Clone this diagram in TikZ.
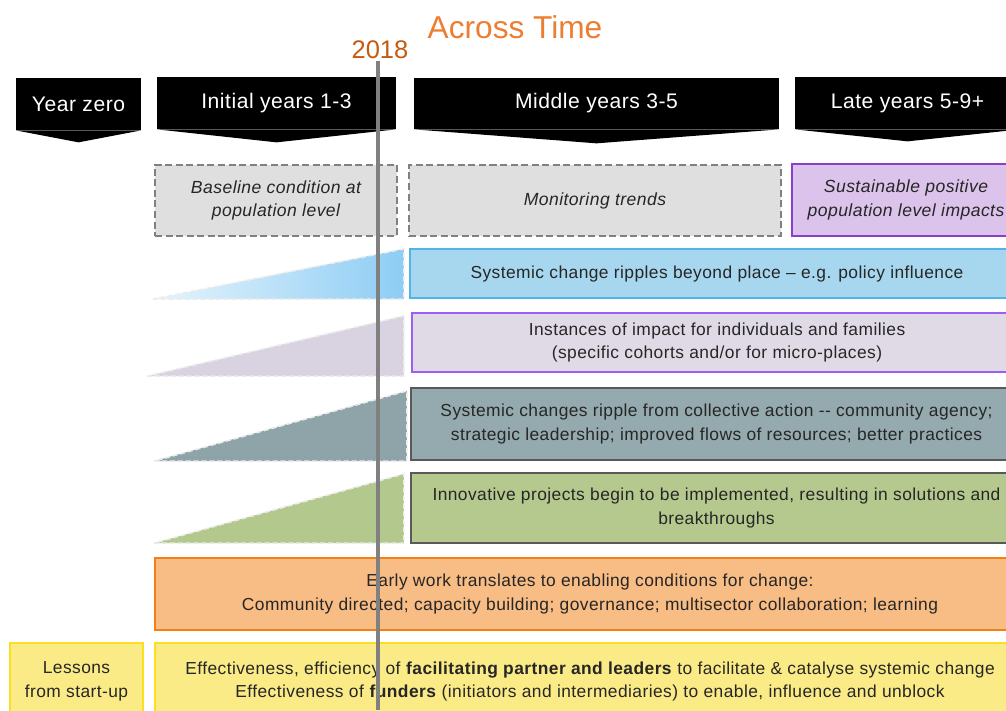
\documentclass[tikz,border=0pt]{standalone}
\usepackage{fontspec}
\setmainfont{Liberation Sans}
\newfontfamily\bandfont{Liberation Sans}[LetterSpace=2.5]
\usetikzlibrary{calc}

\definecolor{titleorange}{HTML}{ED7D31}
\definecolor{yearorange}{HTML}{C55A11}
\definecolor{dashgray}{HTML}{808080}
\definecolor{boxgray}{HTML}{DFDFDF}
\definecolor{susfill}{HTML}{DBC3EB}
\definecolor{susline}{HTML}{8A3FC9}
\definecolor{ripfill}{HTML}{A7D7EE}
\definecolor{ripline}{HTML}{50B4E6}
\definecolor{instfill}{HTML}{E0DAE6}
\definecolor{instline}{HTML}{9D5CF6}
\definecolor{collfill}{HTML}{95AAAE}
\definecolor{innovfill}{HTML}{B5C98F}
\definecolor{darkline}{HTML}{595959}
\definecolor{earlyfill}{HTML}{F8BC85}
\definecolor{earlyline}{HTML}{F57F17}
\definecolor{lessfill}{HTML}{FBEB87}
\definecolor{lessline}{HTML}{FCE01E}
\definecolor{wedgeblueL}{HTML}{E6F4FD}
\definecolor{wedgeblueR}{HTML}{8ECDF4}
\definecolor{wedgelav}{HTML}{D9D2E0}
\definecolor{wedgegray}{HTML}{8FA4A8}
\definecolor{wedgegreen}{HTML}{B3C88C}
\definecolor{textdark}{HTML}{262626}

\begin{document}
\begin{tikzpicture}[x=0.02cm, y=-0.02cm,
    header/.style={rectangle, fill=black, text=white, inner sep=0pt, font=\bandfont\fontsize{12}{14}\selectfont},
    dashbox/.style={rectangle, draw=dashgray, fill=boxgray, dash pattern=on 4pt off 2pt, line width=1.1pt, inner sep=0pt, align=center, text=textdark, font=\bandfont\fontsize{10}{13.5}\selectfont\itshape},
    band/.style={rectangle, line width=1.3pt, inner sep=0pt, align=center, text=textdark, font=\bandfont\fontsize{9.9}{13.5}\selectfont},
    wedge/.style={draw=white!85!gray, dash pattern=on 3pt off 1.5pt, line width=0.9pt},
    nowline/.style={draw=dashgray, line width=2.8pt}]

    \useasboundingbox (0,0) rectangle (1006,710);
    \clip (0,0) rectangle (1006,710);

    % title and year
    \node[text=titleorange, font=\fontsize{18}{20}\selectfont] (title) at (515,27) {Across Time};
    \node[text=yearorange, font=\fontsize{14.5}{16}\selectfont, inner sep=1pt] (yr) at (380,50) {2018};

    % stage headers
    \node[header, minimum width=2.5cm, minimum height=1.04cm] (hz) at (78.5,104) {Year zero};
    \node[header, minimum width=4.78cm, minimum height=1.04cm] (hi) at (276.5,103) {Initial years 1-3};
    \node[header, minimum width=7.3cm, minimum height=1.02cm] (hm) at (596.5,103.5) {Middle years 3-5};
    \node[header, minimum width=4.5cm, minimum height=1.04cm] (hl) at (907.5,103) {Late years 5-9+};
    \fill (hz.south west) -- ($(hz.south)+(0,12)$) -- (hz.south east) -- cycle;
    \fill (hi.south west) -- ($(hi.south)+(0,13)$) -- (hi.south east) -- cycle;
    \fill (hm.south west) -- ($(hm.south)+(0,14)$) -- (hm.south east) -- cycle;
    \fill (hl.south west) -- ($(hl.south)+(0,12)$) -- (hl.south east) -- cycle;

    % population level
    \node[dashbox, minimum width=4.84cm, minimum height=1.42cm] (base) at (276,200.5) {Baseline condition at\\population level};
    \node[dashbox, minimum width=7.44cm, minimum height=1.42cm] (mon) at (595,200.5) {Monitoring trends};
    \node[band, draw=susline, fill=susfill, font=\bandfont\fontsize{10}{13.5}\selectfont\itshape, minimum width=4.56cm, minimum height=1.44cm] (sus) at (906,200) {Sustainable positive\\population level impacts};

    % change bands
    \node[band, draw=ripline, fill=ripfill, minimum width=12.28cm, minimum height=0.98cm] (ripple) at (717,273.5) {Systemic change ripples beyond place – e.g. policy influence};
    \node[band, draw=instline, fill=instfill, minimum width=12.2cm, minimum height=1.18cm] (inst) at (717,342.5) {Instances of impact for individuals and families\\(specific cohorts and/or for micro-places)};
    \node[band, draw=darkline, fill=collfill, minimum width=12.22cm, minimum height=1.44cm] (coll) at (716.5,424) {Systemic changes ripple from collective action -- community agency;\\strategic leadership; improved flows of resources; better practices};
    \node[band, draw=darkline, fill=innovfill, minimum width=12.22cm, minimum height=1.4cm] (innov) at (716.5,508) {Innovative projects begin to be implemented, resulting in solutions and\\breakthroughs};

    % growth wedges
    \path[wedge, left color=wedgeblueL, right color=wedgeblueR] ($(ripple.south west)+(-256,0)$) -- ($(ripple.south west)+(-5,0)$) -- ($(ripple.north west)+(-5,1)$) -- cycle;
    \path[wedge, fill=wedgelav] ($(inst.south west)+(-264,3)$) -- ($(inst.south west)+(-7,3)$) -- ($(inst.north west)+(-7,4)$) -- cycle;
    \path[wedge, fill=wedgegray] ($(coll.south west)+(-256,0)$) -- ($(coll.south west)+(-3,0)$) -- ($(coll.north west)+(-3,4)$) -- cycle;
    \path[wedge, fill=wedgegreen] ($(innov.south west)+(-256,-1)$) -- ($(innov.south west)+(-6,-1)$) -- ($(innov.north west)+(-6,2)$) -- cycle;

    % foundations
    \node[band, draw=earlyline, fill=earlyfill, minimum width=17.4cm, minimum height=1.44cm] (early) at (590,594) {Early work translates to enabling conditions for change:\\Community directed; capacity building; governance; multisector collaboration; learning};
    \node[band, draw=lessline, fill=lessfill, minimum width=2.66cm, minimum height=1.54cm] (lesson) at (76.5,681.5) {Lessons\\from start-up};
    \node[band, draw=lessline, fill=lessfill, minimum width=17.4cm, minimum height=1.54cm] (effect) at (590,681.5) {Effectiveness, efficiency of \textbf{facilitating partner and leaders} to facilitate \& catalyse systemic change\\Effectiveness of \textbf{funders} (initiators and intermediaries) to enable, influence and unblock};

    % now line
    \coordinate (floor) at (378,710);
    \draw[nowline] (yr.south -| floor) -- (floor);
\end{tikzpicture}
\end{document}
